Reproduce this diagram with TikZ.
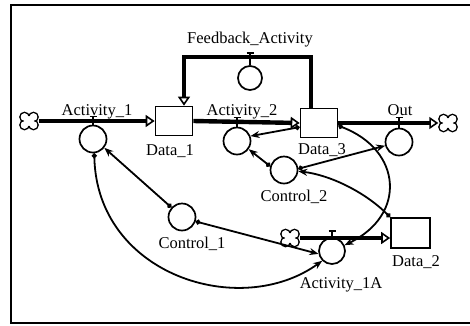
\documentclass[tikz,border=0pt]{standalone}
\usepackage{fontspec}
\setmainfont{Liberation Serif}
\usetikzlibrary{arrows.meta,calc}
\begin{document}
\begin{tikzpicture}[x=1pt,y=-1pt,
  stock/.style={draw,line width=1.7pt,minimum width=37pt,minimum height=29pt,inner sep=0pt},
  valve/.style={circle,draw,line width=1.7pt,minimum size=27pt,inner sep=0pt},
  src/.style={minimum width=19pt,minimum height=17pt,inner sep=0pt},
  lbl/.style={font=\fontsize{16.5}{18}\selectfont,anchor=base,inner sep=0pt},
  pipe/.style={line width=4.4pt,-{Triangle[open,length=9pt,width=12pt,line width=1.6pt]}},
  conn/.style={line width=1.8pt,{Circle[length=5pt]}-{Stealth[length=9pt,width=7pt]}},
  tick/.style={line width=1.4pt},
  lobe/.style={line width=1.5pt}]
\useasboundingbox (0,0) rectangle (470,325);
\draw[line width=2pt] (470,5) -- (11,5) -- (11,323) -- (470,323);
% nodes
\node[src] (c1) at (29,121) {};
\node[stock] (D1) at (174,121) {};
\node[valve] (A1) at (93,139) {};
\node[stock] (D3) at (319,123) {};
\node[valve] (A2) at (237,141) {};
\node[valve] (Out) at (399,142) {};
\node[src] (c2) at (448,123) {};
\node[valve,minimum size=24pt] (FB) at (250,78) {};
\node[valve] (C2) at (284,170) {};
\node[valve] (C1) at (182,217) {};
\node[valve,minimum size=26pt] (A1A) at (332,251) {};
\node[src] (c3) at (290,238) {};
\node[stock,minimum width=39pt,minimum height=30pt] (D2) at (410.5,233) {};
\coordinate (fbR) at (311,57);
\coordinate (fbL) at (184,57);
% clouds
\foreach \c in {c1,c2,c3}{
  \foreach \dx/\dy in {-4.5/-4,4.5/-4,-4.5/4,4.5/4}
    \draw[lobe] ($(\c)+(\dx,\dy)$) circle[radius=4.6pt];
  \foreach \dx/\dy in {-4.5/-4,4.5/-4,-4.5/4,4.5/4}
    \fill[white] ($(\c)+(\dx,\dy)$) circle[radius=3.8pt];
  \fill[white] (\c) circle[radius=5pt];
}
% pipes
\draw[pipe] (c1.east) -- (c1 -| D1.west);
\draw[pipe] (D1.east) -- (D3.west);
\draw[pipe] (D3.east) -- (c2.west);
\draw[pipe] (c3.east) -- (c3 -| D2.west);
\draw[pipe,line join=miter] (D3.north -| fbR) -- (fbR) -- (fbL) -- (fbL |- D1.north);
% valve ticks
\draw[tick] (A1.north) -- ++(0,-8) ++(-3.5,0) -- ++(7,0);
\draw[tick] (A2.north) -- ++(0,-9) ++(-3.5,0) -- ++(7,0);
\draw[tick] (Out.north) -- ++(0,-10) ++(-3.5,0) -- ++(7,0);
\draw[tick] (FB.north) -- ++(0,-12) ++(-3.5,0) -- ++(7,0);
\draw[tick] (A1A.north) -- ++(0,-6) ++(-3.5,0) -- ++(7,0);
% connectors
\draw[conn] (D3.192) -- (A2.20);
\draw[conn] (C2.165) -- (A2.-35);
\draw[conn] (C2.5) -- (Out.195);
\draw[conn] (D2.north west) .. controls (365,192) and (330,175) .. (C2.-5);
\draw[conn] (D3.-8) .. controls (402,150) and (407,215) .. (A1A.25);
\draw[conn] (C1.138) -- (A1.-38);
\draw[conn] (C1.-18) -- (A1A.192);
\draw[conn] (A1.-85) .. controls (97,275) and (240,320) .. (A1A.225);
% labels
\node[lbl] (lFB) at (250,43) {Feedback\_Activity};
\node[lbl] (lA1) at (97,115) {Activity\_1};
\node[lbl] (lA2) at (242,115) {Activity\_2};
\node[lbl] (lOut) at (400,115) {Out};
\node[lbl] (lD1) at (170,155) {Data\_1};
\node[lbl] (lD3) at (322,154) {Data\_3};
\node[lbl] (lC2) at (294,201) {Control\_2};
\node[lbl] (lC1) at (192,248) {Control\_1};
\node[lbl] (lD2) at (416,266) {Data\_2};
\node[lbl] (lA1A) at (341,288) {Activity\_1A};
\end{tikzpicture}
\end{document}
